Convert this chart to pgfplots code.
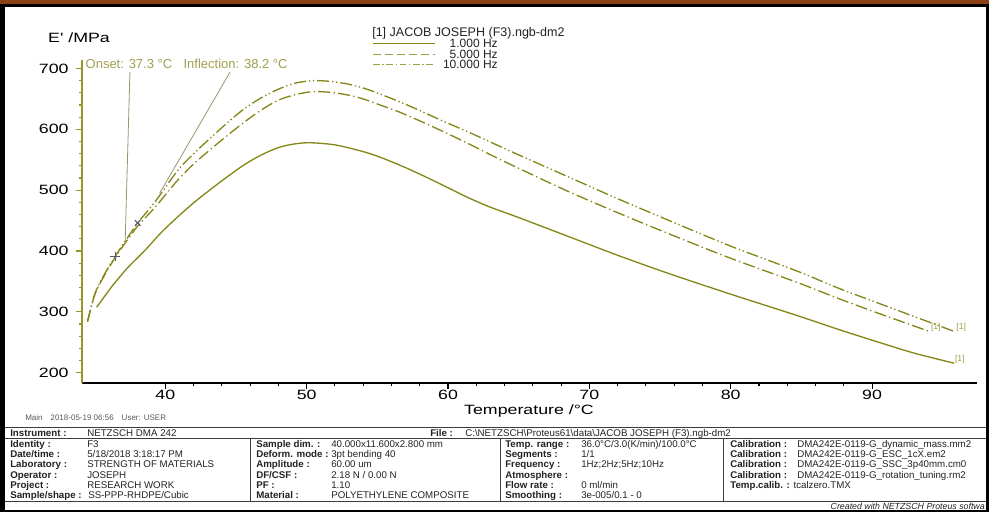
\documentclass[border=0pt]{standalone}
\usepackage{fontspec}
\setmainfont{Liberation Sans}
\usepackage{pgfplots}
\pgfplotsset{compat=1.18}

\definecolor{curve}{RGB}{135,135,25}
\definecolor{yaxis}{RGB}{150,150,45}
\definecolor{annot}{RGB}{160,160,80}
\definecolor{annline}{RGB}{150,150,115}
\definecolor{legline}{RGB}{160,160,70}
\definecolor{frametop}{RGB}{138,64,18}
\definecolor{rule}{RGB}{60,60,60}
\definecolor{cross}{RGB}{85,85,110}
\definecolor{info}{RGB}{35,35,35}

% large labels are set in a widened face
\newcommand\bigfont{\fontsize{10.1}{12}\selectfont}
\newcommand\wide[1]{\scalebox{1.32}[1]{#1}}
\newcommand\tabfont{\fontsize{7.3}{8.5}\selectfont}

\begin{document}
\begin{tikzpicture}[x=0.75pt,y=-0.75pt,
  lab/.style={anchor=base west, inner sep=0pt, font=\tabfont\bfseries, text=info},
  val/.style={anchor=base west, inner sep=0pt, font=\tabfont, text=info}]
\useasboundingbox (0,0) rectangle (989,512);
% page frame
\fill[black] (0,0) rectangle (989,512);
\fill[white] (5,7) rectangle (986,510);
\fill[frametop] (0,0) rectangle (989,3.5);

\coordinate (origin) at (82,383);
\begin{axis}[
  at={(origin)}, anchor=south west,
  scale only axis, width=671.25pt, height=242.25pt,
  xmin=34.11, xmax=97.42, ymin=183, ymax=714,
  axis x line*=bottom, axis y line*=left,
  x axis line style={black, -, line width=0.9pt},
  y axis line style={yaxis, -, line width=0.9pt},
  xtick={40,50,...,90}, ytick={200,300,...,700},
  minor x tick num=4, minor y tick num=4,
  tick align=outside,
  major tick length=4.5pt, minor tick length=2.5pt,
  xtick style={black, line width=0.8pt},
  ytick style={yaxis, line width=0.8pt},
  tick label style={font=\bigfont, text=black},
  xticklabel={\wide{\pgfmathprintnumber{\tick}}},
  yticklabel={\wide{\pgfmathprintnumber{\tick}}},
  xticklabel style={yshift=1pt, inner sep=1.5pt},
  yticklabel style={xshift=-2pt},
  /pgf/number format/assume math mode=true,
  clip=false,
]
% 1.000 Hz
\addplot[curve, line width=1pt, smooth] coordinates {
 (35.15,307.6) (35.6,322) (36.2,341) (36.8,358) (37.4,374) (38.6,402)
 (39.7,430) (40.9,456.6) (42.1,481) (43.3,503) (44.5,524) (45.6,542)
 (46.8,558) (48.0,570) (49.0,575.5) (50.0,578) (51.0,577) (52.0,574.5)
 (53.0,569.5) (54.35,561) (55.5,551.5) (57.0,537) (58.5,521) (60.0,504)
 (61.4,488) (63.0,472) (65.0,455) (68.5,424)
 (72.0,393) (75.55,363.5) (80.0,329) (84.74,293.6) (87.5,272)
 (90.4,250.5) (93.0,232) (95.8,215.6)};
% 5.000 Hz
\addplot[curve, line width=1pt, smooth,
  dash pattern=on 9pt off 2.5pt on 1pt off 2.5pt] coordinates {
 (34.5,284) (35.04,330) (35.75,362) (36.45,389) (37.16,413) (38.05,441)
 (39.28,472) (40.9,517) (42.1,545) (43.3,569) (44.5,592) (45.6,612)
 (46.8,632) (48.0,648) (49.2,657) (50.4,662) (51.6,661) (52.8,657)
 (54.0,650) (55.2,640) (56.5,629) (58.0,614) (59.6,597) (61.4,577)
 (63.2,556) (65.0,536) (68.5,498)
 (72.0,463) (75.55,429) (80.0,388) (84.74,348) (87.5,323) (90.4,298)
 (94.1,267.4)};
% 10.000 Hz
\addplot[curve, line width=1pt, smooth,
  dash pattern=on 9pt off 2.2pt on 1pt off 2pt on 1pt off 2.2pt] coordinates {
 (34.5,284) (35.04,331) (35.75,364) (36.45,391) (37.16,416) (38.05,446)
 (39.28,481) (40.9,533) (42.1,562) (43.3,588) (44.5,613) (45.6,634)
 (46.8,652) (48.0,666) (49.2,676) (50.4,680) (51.6,679) (52.8,675)
 (54.0,668) (55.2,658) (56.5,646) (58.0,631) (59.6,614) (61.4,596)
 (63.2,577) (65.0,558) (68.5,522)
 (72.0,486) (75.55,451) (80.0,408) (84.74,366.6) (87.5,340) (90.4,314.6)
 (95.9,267)};
% onset and inflection points
\addplot[only marks, mark=+, mark size=3.5pt, cross, line width=0.8pt] coordinates {(36.45,391)};
\addplot[only marks, mark=x, mark size=3pt, cross, line width=0.8pt] coordinates {(38.05,446)};
\draw[annline, line width=0.6pt] (axis cs:37.5,694) -- (axis cs:37.16,413);
\draw[annline, line width=0.6pt] (axis cs:44.58,694) -- (axis cs:39.6,495);
\node[annot, anchor=west, inner sep=0pt, font=\fontsize{9.75}{11}\selectfont]
  at (axis cs:34.35,707.7) {Onset: 37.3 °C};
\node[annot, anchor=west, inner sep=0pt, font=\fontsize{9.75}{11}\selectfont]
  at (axis cs:41.28,707.7) {Inflection: 38.2 °C};
% segment tags at the curve ends
\node[annot, anchor=south west, inner sep=0.5pt, font=\fontsize{6.5}{7}\selectfont]
  at (axis cs:94.1,266) {[1]};
\node[annot, anchor=south west, inner sep=0.5pt, font=\fontsize{6.5}{7}\selectfont]
  at (axis cs:95.9,266) {[1]};
\node[annot, anchor=south west, inner sep=0.5pt, font=\fontsize{6.5}{7}\selectfont]
  at (axis cs:95.8,214) {[1]};
\end{axis}

% axis titles
\node[font=\bigfont, inner sep=0pt] at (79,38) {\wide{E\textquotesingle{} /MPa}};
\node[font=\bigfont, inner sep=0pt] at (529,411) {\wide{Temperature /°C}};

% legend
\node[anchor=west, inner sep=0pt, font=\fontsize{9.4}{10}\selectfont, text=info]
  at (372,33) {[1] JACOB JOSEPH (F3).ngb-dm2};
\draw[curve, line width=0.8pt] (373,43.3) -- (435,43.3);
\draw[legline, line width=0.8pt, dash pattern=on 6pt off 3pt] (373,54.3) -- (435,54.3);
\draw[legline, line width=0.8pt, dash pattern=on 5pt off 2pt on 1pt off 2pt] (373,64.3) -- (435,64.3);
\node[anchor=east, inner sep=0pt, font=\fontsize{9}{10}\selectfont, text=info] at (498,43.3) {1.000 Hz};
\node[anchor=east, inner sep=0pt, font=\fontsize{9}{10}\selectfont, text=info] at (498,54.3) {5.000 Hz};
\node[anchor=east, inner sep=0pt, font=\fontsize{9}{10}\selectfont, text=info] at (498,64.3) {10.000 Hz};

% run stamp
\node[anchor=west, inner sep=0pt, font=\fontsize{6}{7}\selectfont, text=black!65]
  at (25,418) {Main\quad 2018-05-19 06:56\quad User: USER};

% information table
\draw[rule, line width=1.2pt] (5,427.5) -- (986,427.5);
\draw[rule, line width=0.6pt] (5,438.3) -- (986,438.3);
\draw[rule, line width=0.6pt] (5,501.3) -- (986,501.3);
\draw[rule, line width=0.6pt] (250,438.3) -- (250,501.3);
\draw[rule, line width=0.6pt] (500,438.3) -- (500,501.3);
\draw[rule, line width=0.6pt] (723,438.3) -- (723,501.3);

\node[lab] at (10,436.2) {Instrument :};
\node[val] at (87,436.2) {NETZSCH DMA 242};
\node[lab] at (430,436.2) {File :};
\node[val] at (465,436.2) {C:\textbackslash NETZSCH\textbackslash Proteus61\textbackslash data\textbackslash JACOB JOSEPH (F3).ngb-dm2};

% column 1
\node[lab] at (10,447.2) {Identity :};        \node[val] at (87,447.2) {F3};
\node[lab] at (10,457.5) {Date/time :};       \node[val] at (87,457.5) {5/18/2018 3:18:17 PM};
\node[lab] at (10,467.8) {Laboratory :};      \node[val] at (87,467.8) {STRENGTH OF MATERIALS};
\node[lab] at (10,478.1) {Operator :};        \node[val] at (87,478.1) {JOSEPH};
\node[lab] at (10,488.4) {Project :};         \node[val] at (87,488.4) {RESEARCH WORK};
\node[lab] at (10,498.7) {Sample/shape :};    \node[val] at (88,498.7) {SS-PPP-RHDPE/Cubic};
% column 2
\node[lab] at (256,447.2) {Sample dim. :};    \node[val] at (331,447.2) {40.000x11.600x2.800 mm};
\node[lab] at (256,457.5) {Deform. mode :};   \node[val] at (331,457.5) {3pt bending 40};
\node[lab] at (256,467.8) {Amplitude :};      \node[val] at (331,467.8) {60.00 um};
\node[lab] at (256,478.1) {DF/CSF :};         \node[val] at (331,478.1) {2.18 N / 0.00 N};
\node[lab] at (256,488.4) {PF :};             \node[val] at (331,488.4) {1.10};
\node[lab] at (256,498.7) {Material :};       \node[val] at (331,498.7) {POLYETHYLENE COMPOSITE};
% column 3
\node[lab] at (505,447.2) {Temp. range :};    \node[val] at (581,447.2) {36.0°C/3.0(K/min)/100.0°C};
\node[lab] at (505,457.5) {Segments :};       \node[val] at (581,457.5) {1/1};
\node[lab] at (505,467.8) {Frequency :};      \node[val] at (581,467.8) {1Hz;2Hz;5Hz;10Hz};
\node[lab] at (505,478.1) {Atmosphere :};
\node[lab] at (505,488.4) {Flow rate :};      \node[val] at (581,488.4) {0 ml/min};
\node[lab] at (505,498.7) {Smoothing :};      \node[val] at (581,498.7) {3e-005/0.1 - 0};
% column 4
\node[lab] at (730,447.2) {Calibration :};    \node[val] at (797,447.2) {DMA242E-0119-G\_dynamic\_mass.mm2};
\node[lab] at (730,457.5) {Calibration :};    \node[val] at (797,457.5) {DMA242E-0119-G\_ESC\_1cX.em2};
\node[lab] at (730,467.8) {Calibration :};    \node[val] at (797,467.8) {DMA242E-0119-G\_SSC\_3p40mm.cm0};
\node[lab] at (730,478.1) {Calibration :};    \node[val] at (797,478.1) {DMA242E-0119-G\_rotation\_tuning.rm2};
\node[anchor=base west, inner sep=0pt, font=\tabfont, text=info] at (730,488.4)
  {\textbf{Temp.calib. :} tcalzero.TMX};

\node[anchor=east, inner sep=0pt, font=\fontsize{6.6}{7}\selectfont\itshape, text=info]
  at (985,506) {Created with NETZSCH Proteus softwa};
\end{tikzpicture}
\end{document}
